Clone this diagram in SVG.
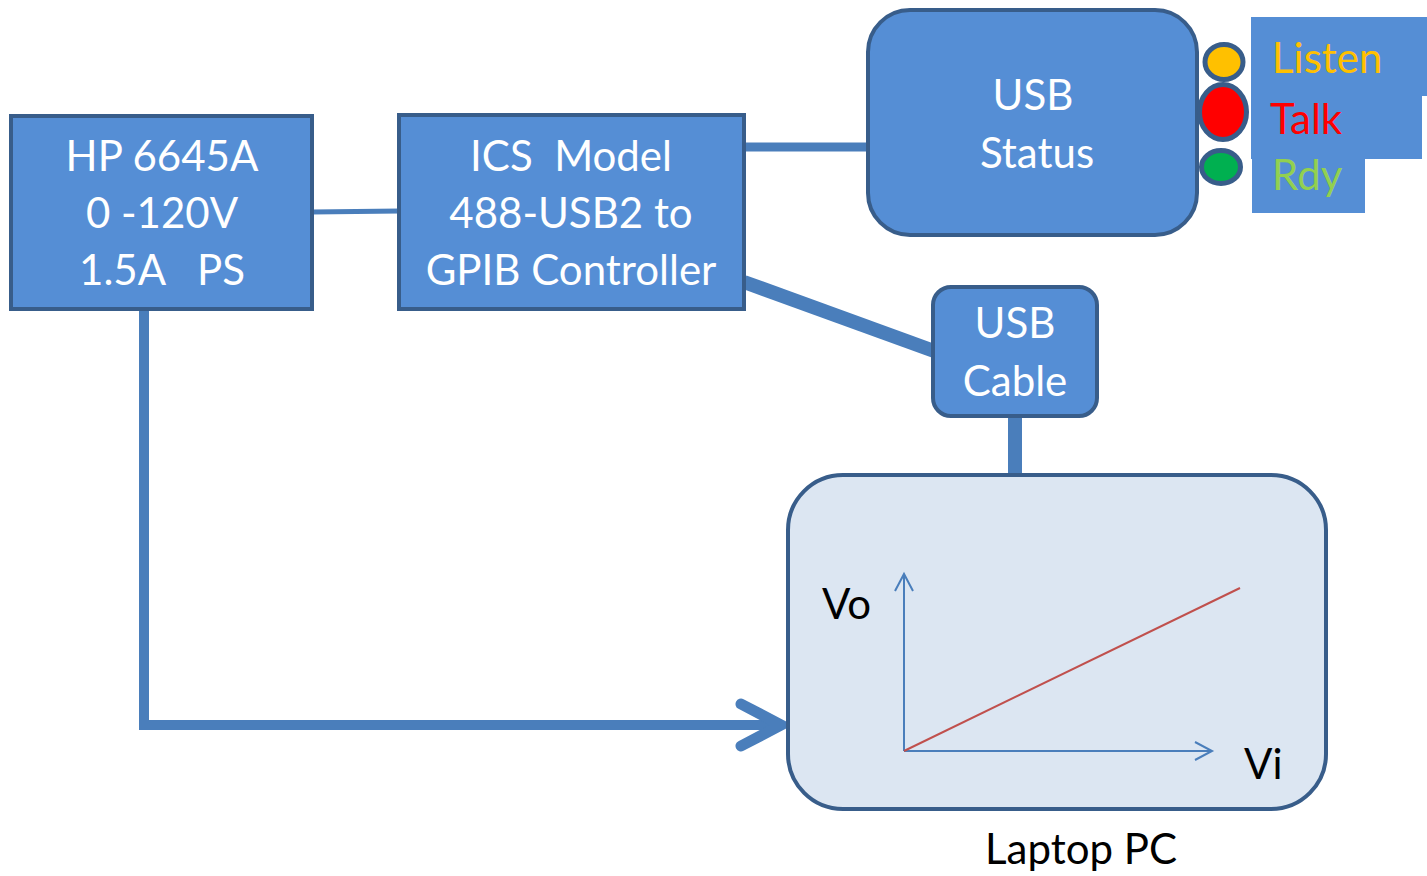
<svg xmlns="http://www.w3.org/2000/svg" width="1427" height="876" viewBox="0 0 1427 876">
<style>
.box{fill:#558ed5;stroke:#385d8a;stroke-width:4}
.wt{fill:#ffffff;font-family:Lato,"Open Sans",sans-serif;font-size:42px;text-anchor:middle;white-space:pre}
.bt{fill:#000000;font-family:Lato,"Open Sans",sans-serif;font-size:42px}
.lt{font-family:Lato,"Open Sans",sans-serif;font-size:42px}
.conn{stroke:#4a7ebb;fill:none}
.axis{stroke:#4a7ebb;stroke-width:2;fill:none}
.lamp{stroke:#385d8a;stroke-width:5}
</style>
<rect width="1427" height="876" fill="#ffffff"/>
<g id="connectors">
<line class="conn" x1="312" y1="212" x2="400" y2="211" stroke-width="5"/>
<line class="conn" x1="744" y1="147" x2="870" y2="147" stroke-width="9"/>
<line class="conn" x1="744" y1="282" x2="934" y2="351" stroke-width="14"/>
<line class="conn" x1="1015" y1="416" x2="1015" y2="480" stroke-width="14"/>
<polyline class="conn" points="144,309 144,725 778,725" stroke-width="10"/>
<polyline class="conn" points="741,704 781,725 741,746" stroke-width="11" stroke-linecap="round" stroke-linejoin="miter"/>
</g>
<g id="hp">
<rect class="box" x="11" y="116" width="301" height="193"/>
<text class="wt" x="162" y="171">HP 6645A</text>
<text class="wt" x="162" y="228">0 -120V</text>
<text class="wt" x="162" y="285">1.5A   PS</text>
</g>
<g id="ics">
<rect class="box" x="399" y="115" width="345" height="194"/>
<text class="wt" x="571" y="171">ICS  Model</text>
<text class="wt" x="571" y="228">488-USB2 to</text>
<text class="wt" x="571" y="285">GPIB Controller</text>
</g>
<g id="usb-status">
<rect class="box" x="868" y="10" width="329" height="225" rx="42"/>
<text class="wt" x="1033" y="110">USB</text>
<text class="wt" x="1037" y="168">Status</text>
</g>
<g id="lights">
<ellipse class="lamp" cx="1224" cy="62" rx="19" ry="17.5" fill="#ffc000"/>
<ellipse class="lamp" cx="1223" cy="112" rx="23.5" ry="27.5" fill="#ff0000"/>
<ellipse class="lamp" cx="1221" cy="167" rx="19.5" ry="16.5" fill="#00b050"/>
</g>
<g id="labels">
<rect x="1251" y="17" width="176" height="79" fill="#558ed5"/>
<rect x="1251" y="95" width="171" height="64" fill="#558ed5"/>
<rect x="1252" y="158" width="113" height="55" fill="#558ed5"/>
<text class="lt" x="1272" y="73" fill="#ffc000">Listen</text>
<text class="lt" x="1270" y="134" fill="#ff0000">Talk</text>
<text class="lt" x="1272" y="190" fill="#92d050">Rdy</text>
</g>
<g id="usb-cable">
<rect class="box" x="933" y="287" width="164" height="129" rx="18"/>
<text class="wt" x="1015" y="338">USB</text>
<text class="wt" x="1015" y="396">Cable</text>
</g>
<g id="laptop">
<rect x="788" y="475" width="538" height="334" rx="55" fill="#dce6f2" stroke="#385d8a" stroke-width="4"/>
<line class="axis" x1="904" y1="751" x2="904" y2="574"/>
<polyline class="axis" points="895,591 904,574 913,591"/>
<line class="axis" x1="904" y1="751" x2="1211" y2="751"/>
<polyline class="axis" points="1195,742 1212,751 1195,760"/>
<line x1="904" y1="751" x2="1240" y2="588" stroke="#c0504d" stroke-width="2"/>
<text class="bt" x="822" y="619">Vo</text>
<text class="bt" x="1244" y="779">Vi</text>
<text class="bt" x="1081" y="864" text-anchor="middle">Laptop PC</text>
</g>
</svg>
